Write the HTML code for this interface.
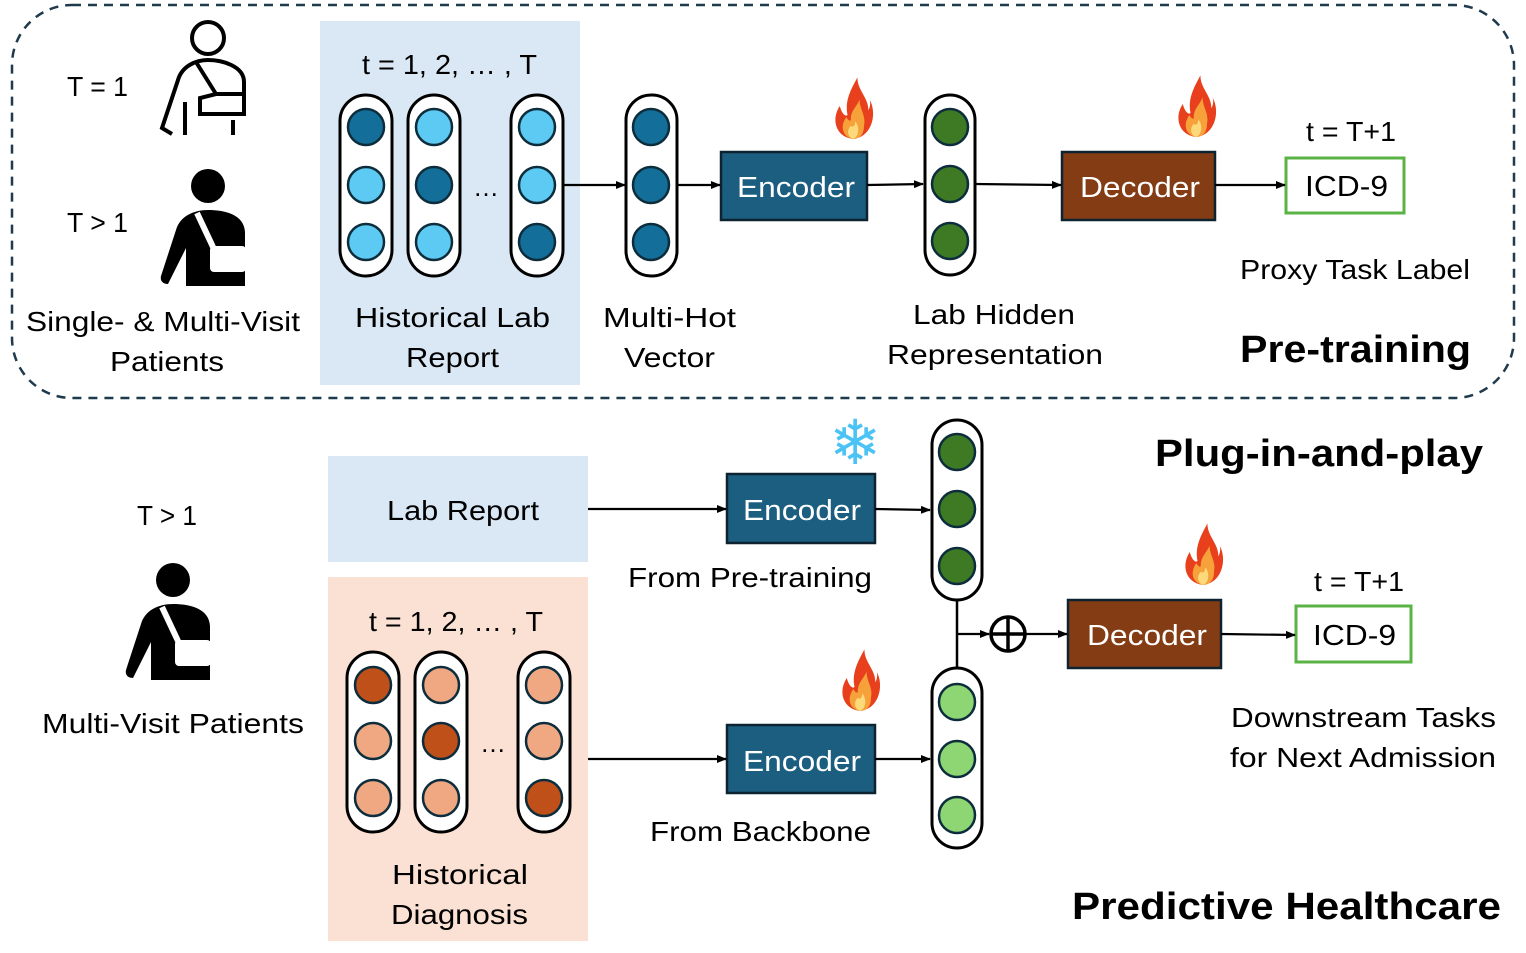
<!DOCTYPE html><html><head><meta charset="utf-8"><style>body{margin:0;background:#fff}svg{display:block}text{font-family:"Liberation Sans","DejaVu Sans",sans-serif}</style></head><body>
<svg width="1526" height="953" viewBox="0 0 1526 953" xmlns="http://www.w3.org/2000/svg">
<defs>
<marker id="a" markerWidth="10" markerHeight="8" refX="9" refY="4" orient="auto" markerUnits="userSpaceOnUse"><path d="M0,0L10,4L0,8z" fill="#000"/></marker>
<g id="flame"><path d="M0,30 C-16,28 -20,12 -12,0 C-10,8 -6,10 -5,8 C-8,-6 0,-18 4,-26 C4,-14 14,-8 14,4 C16,0 16,-4 15,-6 C22,6 18,28 0,30z" fill="#e8401c"/><path d="M0,30 C-10,28 -12,18 -6,10 C-4,14 -2,14 -2,12 C-2,4 4,0 6,-6 C6,4 12,8 10,18 C10,26 6,30 0,30z" fill="#f7a13a"/><path d="M0,30 C-5,28 -6,22 -2,18 C0,20 2,18 2,14 C6,18 6,28 0,30z" fill="#fcd97a"/></g>
<g id="pers"><circle cx="48" cy="18" r="17"/>
<path d="M8,116 C2,116 0,112 1,108 L16,62 C20,48 34,42 48,42 C64,42 84,46 85,64 L85,118 L26,118 L26,80 Z"/>
<rect x="50" y="78" width="36" height="26" rx="4" fill="#fff"/>
<path d="M37,45 L53,79" stroke="#fff" stroke-width="6"/></g>
</defs>
<rect x="12" y="5" width="1502" height="393" rx="60" fill="none" stroke="#1f3a4d" stroke-width="2.5" stroke-dasharray="9,7"/>
<rect x="320" y="21" width="260" height="364" fill="#dae8f5"/>
<rect x="328" y="456" width="260" height="106" fill="#dae8f5"/>
<rect x="328" y="577" width="260" height="364" fill="#fbe1d3"/>
<g font-size="28" fill="#000" lengthAdjust="spacingAndGlyphs">
<text x="67" y="96" textLength="61" lengthAdjust="spacingAndGlyphs">T = 1</text>
<text x="67" y="232" textLength="61" lengthAdjust="spacingAndGlyphs">T &gt; 1</text>
<text x="26" y="331" textLength="274" lengthAdjust="spacingAndGlyphs">Single- &amp; Multi-Visit</text>
<text x="110" y="371" textLength="114" lengthAdjust="spacingAndGlyphs">Patients</text>
<text x="362" y="74" textLength="175" lengthAdjust="spacingAndGlyphs">t = 1, 2, … , T</text>
<text x="355" y="327" textLength="195" lengthAdjust="spacingAndGlyphs">Historical Lab</text>
<text x="406" y="367" textLength="93" lengthAdjust="spacingAndGlyphs">Report</text>
<text x="603" y="327" textLength="133" lengthAdjust="spacingAndGlyphs">Multi-Hot</text>
<text x="624" y="367" textLength="91" lengthAdjust="spacingAndGlyphs">Vector</text>
<text x="913" y="324" textLength="162" lengthAdjust="spacingAndGlyphs">Lab Hidden</text>
<text x="887" y="364" textLength="216" lengthAdjust="spacingAndGlyphs">Representation</text>
<text x="1306" y="141" textLength="90" lengthAdjust="spacingAndGlyphs">t = T+1</text>
<text x="1240" y="279" textLength="230" lengthAdjust="spacingAndGlyphs">Proxy Task Label</text>
<text x="137" y="525" textLength="60" lengthAdjust="spacingAndGlyphs">T &gt; 1</text>
<text x="42" y="733" textLength="262" lengthAdjust="spacingAndGlyphs">Multi-Visit Patients</text>
<text x="387" y="520" textLength="152" lengthAdjust="spacingAndGlyphs">Lab Report</text>
<text x="369" y="631" textLength="174" lengthAdjust="spacingAndGlyphs">t = 1, 2, … , T</text>
<text x="392" y="884" textLength="136" lengthAdjust="spacingAndGlyphs">Historical</text>
<text x="391" y="924" textLength="137" lengthAdjust="spacingAndGlyphs">Diagnosis</text>
<text x="628" y="587" textLength="244" lengthAdjust="spacingAndGlyphs">From Pre-training</text>
<text x="650" y="841" textLength="221" lengthAdjust="spacingAndGlyphs">From Backbone</text>
<text x="1314" y="591" textLength="90" lengthAdjust="spacingAndGlyphs">t = T+1</text>
<text x="1231" y="727" textLength="265" lengthAdjust="spacingAndGlyphs">Downstream Tasks</text>
<text x="1230" y="767" textLength="266" lengthAdjust="spacingAndGlyphs">for Next Admission</text>
</g>
<g font-size="38" font-weight="bold" fill="#000">
<text x="1240" y="362" textLength="231" lengthAdjust="spacingAndGlyphs">Pre-training</text>
<text x="1155" y="466" textLength="328" lengthAdjust="spacingAndGlyphs">Plug-in-and-play</text>
<text x="1072" y="919" textLength="429" lengthAdjust="spacingAndGlyphs">Predictive Healthcare</text>
</g>
<!-- persons -->
<g transform="translate(160,20)" fill="none" stroke="#000" stroke-width="4"><circle cx="48" cy="18" r="16"/><path d="M12,114 L2,108 L18,60 C22,46 36,40 48,40 C62,40 84,46 84,62 L84,94 L40,94 L40,78 L56,74 L84,74 M36,42 L56,74 M25,82 L25,115 M73,100 L73,115"/></g>
<g transform="translate(160,168)"><use href="#pers"/></g>
<g transform="translate(125,562)"><use href="#pers"/></g>
<!-- pills -->
<g stroke="#000" stroke-width="3">
<rect x="340" y="95" width="52" height="181" rx="26" fill="#fff"/><rect x="408" y="95" width="52" height="181" rx="26" fill="#fff"/><rect x="511" y="95" width="52" height="181" rx="26" fill="#fff"/><rect x="626" y="95" width="51" height="181" rx="25" fill="#fff"/><rect x="925" y="95" width="50" height="180" rx="25" fill="#fff"/>
<rect x="347" y="652" width="52" height="180" rx="26" fill="#fff"/><rect x="415" y="652" width="52" height="180" rx="26" fill="#fff"/><rect x="518" y="652" width="52" height="180" rx="26" fill="#fff"/>
<rect x="932" y="420" width="50" height="180" rx="25" fill="#fff"/><rect x="932" y="668" width="50" height="180" rx="25" fill="#fff"/>
</g>
<g stroke="#0d2d3d" stroke-width="2.5">
<circle cx="366" cy="127" r="18" fill="#136f99"/><circle cx="366" cy="185" r="18" fill="#5ccaf2"/><circle cx="366" cy="242" r="18" fill="#5ccaf2"/>
<circle cx="434" cy="127" r="18" fill="#5ccaf2"/><circle cx="434" cy="185" r="18" fill="#136f99"/><circle cx="434" cy="242" r="18" fill="#5ccaf2"/>
<circle cx="537" cy="127" r="18" fill="#5ccaf2"/><circle cx="537" cy="185" r="18" fill="#5ccaf2"/><circle cx="537" cy="242" r="18" fill="#136f99"/>
<circle cx="651" cy="127" r="18" fill="#136f99"/><circle cx="651" cy="185" r="18" fill="#136f99"/><circle cx="651" cy="242" r="18" fill="#136f99"/>
<circle cx="950" cy="127" r="18" fill="#3d7a23"/><circle cx="950" cy="184" r="18" fill="#3d7a23"/><circle cx="950" cy="241" r="18" fill="#3d7a23"/>
<circle cx="957" cy="452" r="18" fill="#3d7a23"/><circle cx="957" cy="509" r="18" fill="#3d7a23"/><circle cx="957" cy="566" r="18" fill="#3d7a23"/>
<circle cx="957" cy="702" r="18" fill="#8ed673"/><circle cx="957" cy="759" r="18" fill="#8ed673"/><circle cx="957" cy="815" r="18" fill="#8ed673"/>
<circle cx="373" cy="685" r="18" fill="#c0501a"/><circle cx="373" cy="741" r="18" fill="#f0a882"/><circle cx="373" cy="798" r="18" fill="#f0a882"/>
<circle cx="441" cy="685" r="18" fill="#f0a882"/><circle cx="441" cy="741" r="18" fill="#c0501a"/><circle cx="441" cy="798" r="18" fill="#f0a882"/>
<circle cx="544" cy="685" r="18" fill="#f0a882"/><circle cx="544" cy="741" r="18" fill="#f0a882"/><circle cx="544" cy="798" r="18" fill="#c0501a"/>
</g>
<text x="486" y="196" font-size="26" text-anchor="middle">…</text>
<text x="493" y="752" font-size="26" text-anchor="middle">…</text>
<!-- boxes -->
<g stroke="#0d2330" stroke-width="2.5">
<rect x="721" y="152" width="146" height="68" fill="#1b5e80"/><rect x="727" y="474" width="148" height="69" fill="#1b5e80"/><rect x="727" y="725" width="148" height="68" fill="#1b5e80"/>
<rect x="1062" y="152" width="153" height="68" fill="#843c15"/><rect x="1068" y="600" width="153" height="68" fill="#843c15"/>
</g>
<rect x="1286" y="158" width="118" height="55" fill="#fff" stroke="#5bb346" stroke-width="3"/>
<rect x="1296" y="606" width="115" height="56" fill="#fff" stroke="#5bb346" stroke-width="3"/>
<g font-size="29" fill="#fff">
<text x="737" y="197" textLength="118" lengthAdjust="spacingAndGlyphs">Encoder</text><text x="743" y="520" textLength="118" lengthAdjust="spacingAndGlyphs">Encoder</text><text x="743" y="771" textLength="118" lengthAdjust="spacingAndGlyphs">Encoder</text>
<text x="1080" y="197" textLength="120" lengthAdjust="spacingAndGlyphs">Decoder</text><text x="1087" y="645" textLength="120" lengthAdjust="spacingAndGlyphs">Decoder</text>
</g>
<g font-size="29"><text x="1305" y="196" textLength="83" lengthAdjust="spacingAndGlyphs">ICD-9</text><text x="1313" y="645" textLength="83" lengthAdjust="spacingAndGlyphs">ICD-9</text></g>
<!-- arrows -->
<g stroke="#000" stroke-width="2.2" marker-end="url(#a)" fill="none">
<path d="M563,185H625"/><path d="M677,185H720"/><path d="M867,185L923,184"/><path d="M975,184L1061,185"/><path d="M1215,185H1285"/>
<path d="M588,509H726"/><path d="M875,509L930,510"/><path d="M588,759H726"/><path d="M875,759H930"/>
<path d="M957,634H989"/><path d="M1026,634H1067"/><path d="M1221,634L1295,635"/>
</g>
<path d="M957,600V668" stroke="#000" stroke-width="2.5"/>
<circle cx="1008" cy="634" r="17" fill="#fff" stroke="#000" stroke-width="3.5"/><path d="M991,634H1025M1008,617V651" stroke="#000" stroke-width="3.5"/>
<use href="#flame" transform="translate(853,106) scale(1.1)"/><use href="#flame" transform="translate(1196,104) scale(1.1)"/><use href="#flame" transform="translate(860,678) scale(1.1)"/><use href="#flame" transform="translate(1203,552) scale(1.1)"/>
<text x="855" y="464" font-size="62" fill="#4cc3f5" text-anchor="middle">❄</text>
</svg></body></html>
